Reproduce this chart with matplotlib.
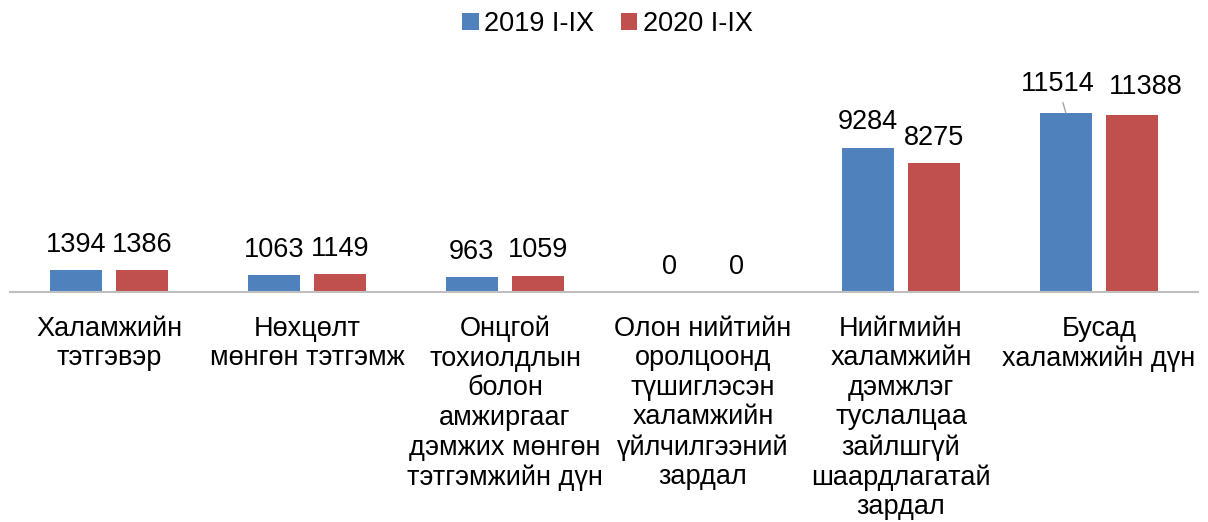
import numpy as np
import matplotlib
matplotlib.use("Agg")
from matplotlib import pyplot as plt

plt.rcParams['font.family'] = ['Liberation Sans', 'DejaVu Sans']

# data
categories = [
    "Халамжийн\nтэтгэвэр",
    "Нөхцөлт\nмөнгөн тэтгэмж",
    "Онцгой\nтохиолдлын\nболон\nамжиргааг\nдэмжих мөнгөн\nтэтгэмжийн дүн",
    "Олон нийтийн\nоролцоонд\nтүшиглэсэн\nхаламжийн\nүйлчилгээний\nзардал",
    "Нийгмийн\nхаламжийн\nдэмжлэг\nтуслалцаа\nзайлшгүй\nшаардлагатай\nзардал",
    "Бусад\nхаламжийн дүн",
]
series_names = ["2019 I-IX", "2020 I-IX"]
vals_2019 = [1394, 1063, 963, 0, 9284, 11514]
vals_2020 = [1386, 1149, 1059, 0, 8275, 11388]

blue = "#4F81BD"
red = "#C0504D"
fs = 19.5

fig = plt.figure(figsize=(12.08, 5.22), dpi=100)
ax = fig.add_axes([10/1208, 1-292/522, 1188/1208, 233/522])

x = np.arange(len(categories))
w = 0.263
b1 = ax.bar(x - 0.167, vals_2019, w, color=blue, label=series_names[0])
b2 = ax.bar(x + 0.167, vals_2020, w, color=red, label=series_names[1])

ax.set_xlim(-0.5, len(categories) - 0.5)
ax.set_ylim(0, 15000)

# value labels (last group labels were moved apart in the original)
for bars, vals in [(b1, vals_2019), (b2, vals_2020)]:
    for rect, v in zip(bars, vals):
        cx = rect.get_x() + rect.get_width()/2
        if v == 11514:
            ax.annotate(str(v), (cx, v), xytext=(-6, 11.5), textcoords="offset points",
                        ha="center", va="bottom", fontsize=fs,
                        arrowprops=dict(arrowstyle="-", color="#A6A6A6", lw=1,
                                        shrinkA=2, shrinkB=0))
        elif v == 11388:
            ax.annotate(str(v), (cx, v), xytext=(10, 11), textcoords="offset points",
                        ha="center", va="bottom", fontsize=fs)
        else:
            ax.annotate(str(v), (cx, v), xytext=(0, 9), textcoords="offset points",
                        ha="center", va="bottom", fontsize=fs)

ax.set_xticks(x)
ax.set_xticklabels(categories, fontsize=fs, linespacing=1.18)
ax.tick_params(axis="x", length=0, pad=17)
ax.set_yticks([])
for s in ["top", "left", "right"]:
    ax.spines[s].set_visible(False)
ax.spines["bottom"].set_color("#BFBFBF")
ax.spines["bottom"].set_linewidth(1.5)

fig.legend(loc="upper center", bbox_to_anchor=(0.503, 1.025), ncol=2, frameon=False,
           fontsize=fs, handlelength=0.6, handleheight=0.6, handletextpad=0.2,
           columnspacing=1.0)

fig.savefig("out.png", dpi=100)
